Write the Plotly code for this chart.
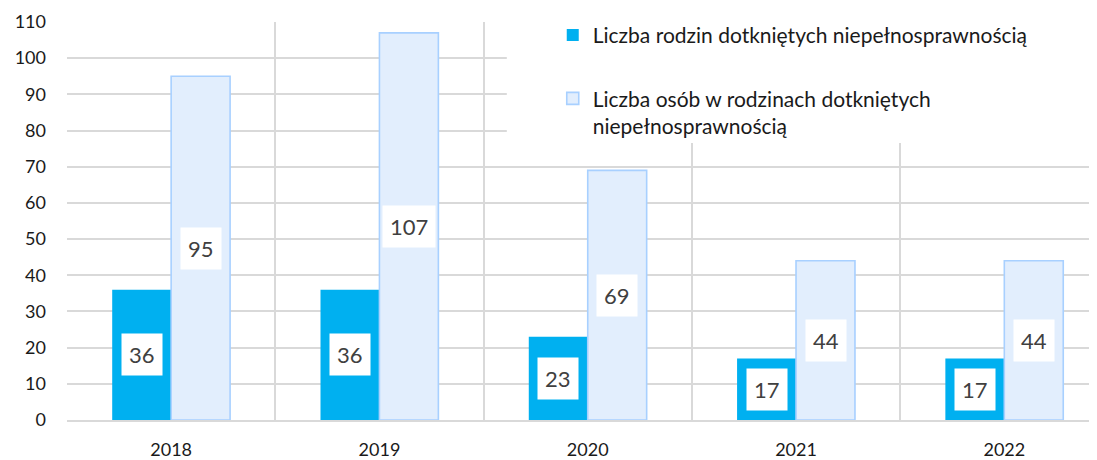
import plotly.graph_objects as go

years = ["2018", "2019", "2020", "2021", "2022"]
families = [36, 36, 23, 17, 17]
persons = [95, 107, 69, 44, 44]
name_families = "Liczba rodzin dotkniętych niepełnosprawnością"
name_persons = "Liczba osób w rodzinach dotkniętych<br>niepełnosprawnością"

FONT = "Lato, 'Open Sans', sans-serif"
DARK = "#00B0F0"
LIGHT = "#E2EEFD"
LIGHT_LINE = "#A8D0FF"
GRID = "#D9D9D9"

fig = go.Figure()
fig.add_trace(go.Bar(x=years, y=families, name=name_families, legendgroup="a",
                     marker=dict(color=DARK, line=dict(color=DARK, width=0))))
fig.add_trace(go.Bar(x=years, y=persons, name=name_persons, legendgroup="b",
                     marker=dict(color=LIGHT, line=dict(color=LIGHT_LINE, width=1.6))))

half = 29.5
annotations = []
for i, v in enumerate(families):
    annotations.append(dict(x=i, y=v / 2, xref="x", yref="y", xshift=-half, text=str(v),
                            showarrow=False, bgcolor="white", borderpad=7,
                            font=dict(family=FONT, size=22, color="#404040")))
for i, v in enumerate(persons):
    annotations.append(dict(x=i, y=v / 2, xref="x", yref="y", xshift=half, text=str(v),
                            showarrow=False, bgcolor="white", borderpad=7,
                            font=dict(family=FONT, size=22, color="#404040")))

fig.update_layout(
    width=1097, height=460,
    margin=dict(l=59, r=8, t=14, b=48, autoexpand=False),
    paper_bgcolor="white", plot_bgcolor="white",
    barmode="group", bargap=0.434, bargroupgap=0,
    font=dict(family=FONT, size=18, color="#1a1a1a"),
    annotations=annotations,
    showlegend=True,
    legend=dict(x=0.4716, y=0.985, yref="container", xanchor="left", yanchor="top",
                bgcolor="rgba(0,0,0,0)", tracegroupgap=33, valign="top",
                font=dict(family=FONT, size=21, color="#1a1a1a")),
    shapes=[dict(type="rect", xref="paper", yref="paper", x0=0.427, x1=1.01,
                 y0=0.696, y1=1.1, fillcolor="white", line=dict(width=0), layer="above")],
    xaxis=dict(type="category", range=[-0.5, 4.445], tickson="boundaries",
               showgrid=True, gridcolor=GRID, gridwidth=1.5, ticks="",
               showline=True, linecolor=GRID, linewidth=1.5, automargin=False,
               ticklabelstandoff=13, tickfont=dict(size=18)),
    yaxis=dict(range=[0, 110], dtick=10, showgrid=True, gridcolor=GRID, gridwidth=1.5,
               zeroline=False, showline=False, ticks="", ticklabelstandoff=20,
               automargin=False, tickfont=dict(size=18)),
)

fig.write_html("out.html")
